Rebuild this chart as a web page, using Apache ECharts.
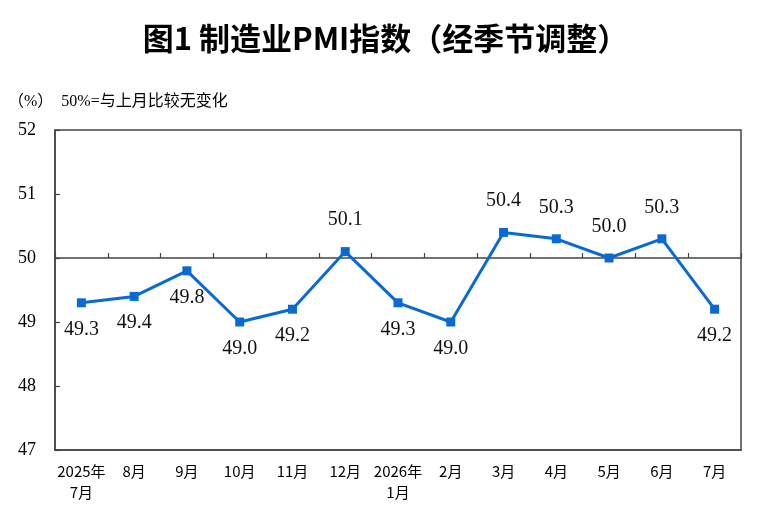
<!DOCTYPE html>
<html>
<head>
<meta charset="utf-8">
<script src="https://cdn.jsdelivr.net/npm/echarts@6/dist/echarts.min.js"></script>
<style>
	html, body { margin: 0; padding: 0; background: #fff; }
	#main { width: 771px; height: 519px; }
</style>
</head>
<body>
<div id="main"></div>
<script>
var months = ['2025年\n7月', '8月', '9月', '10月', '11月', '12月', '2026年\n1月', '2月', '3月', '4月', '5月', '6月', '7月'];
var pmi = [49.3, 49.4, 49.8, 49.0, 49.2, 50.1, 49.3, 49.0, 50.4, 50.3, 50.0, 50.3, 49.2];
var yTicks = [47, 48, 49, 50, 51, 52];
var baseLine = 50;

var gridTop = 130, gridBottom = 69, chartH = 519;
var plotH = chartH - gridTop - gridBottom;
var yMin = yTicks[0], yMax = yTicks[yTicks.length - 1];

var myChart = echarts.init(document.getElementById('main'));

var seriesData = pmi.map(function(v) {
	var up = v >= baseLine;
	return {
		value: v,
		label: {
			position: up ? 'top' : 'bottom',
			distance: up ? 17 : 12
		}
	};
});

var option = {
	backgroundColor: '#fff',
	animation: false,
	title: {
		text: '图1 制造业PMI指数（经季节调整）',
		left: 'center',
		top: 18,
		textStyle: {
			fontFamily: 'Noto Sans CJK SC',
			fontSize: 31,
			fontWeight: 'bold',
			color: '#000'
		}
	},
	graphic: [{
		type: 'text',
		left: 8,
		top: 94,
		style: {
			text: '（%）  50%=与上月比较无变化',
			font: '16px "Liberation Serif", "Noto Sans CJK SC"',
			fill: '#000'
		}
	}],
	grid: {
		left: 55,
		right: 30,
		top: gridTop,
		bottom: gridBottom,
		show: true,
		borderColor: '#444',
		borderWidth: 1.5
	},
	xAxis: [{
		type: 'category',
		data: months,
		boundaryGap: true,
		axisLine: { show: true, lineStyle: { color: '#444', width: 1.5 } },
		axisTick: { show: false },
		axisLabel: {
			color: '#000',
			fontFamily: 'Noto Sans CJK SC',
			fontSize: 15,
			margin: 11,
			lineHeight: 21,
			interval: 0
		}
	}, {
		type: 'category',
		data: months,
		boundaryGap: true,
		position: 'bottom',
		offset: -plotH * (baseLine - yMin) / (yMax - yMin),
		axisLine: { show: true, lineStyle: { color: '#444', width: 1.5 } },
		axisTick: { show: true, inside: true, length: 5, lineStyle: { color: '#444', width: 1.2 } },
		axisLabel: { show: false }
	}],
	yAxis: {
		type: 'value',
		min: yMin,
		max: yMax,
		interval: 1,
		axisLine: { show: true, lineStyle: { color: '#444', width: 1.5 } },
		axisTick: { show: true, inside: true, length: 5, lineStyle: { color: '#444', width: 1.2 } },
		splitLine: { show: false },
		axisLabel: {
			color: '#000',
			fontFamily: 'Liberation Serif',
			fontSize: 18,
			margin: 19
		}
	},
	series: [{
		name: '制造业PMI',
		type: 'line',
		xAxisIndex: 0,
		data: seriesData,
		symbol: 'rect',
		symbolSize: 9,
		itemStyle: { color: '#0a6ad2' },
		lineStyle: { color: '#0a6ad2', width: 3 },
		label: {
			show: true,
			color: '#111',
			fontFamily: 'Liberation Serif',
			fontSize: 20,
			formatter: function(p) { return p.value.toFixed(1); }
		}
	}]
};
myChart.setOption(option);
</script>
</body>
</html>
